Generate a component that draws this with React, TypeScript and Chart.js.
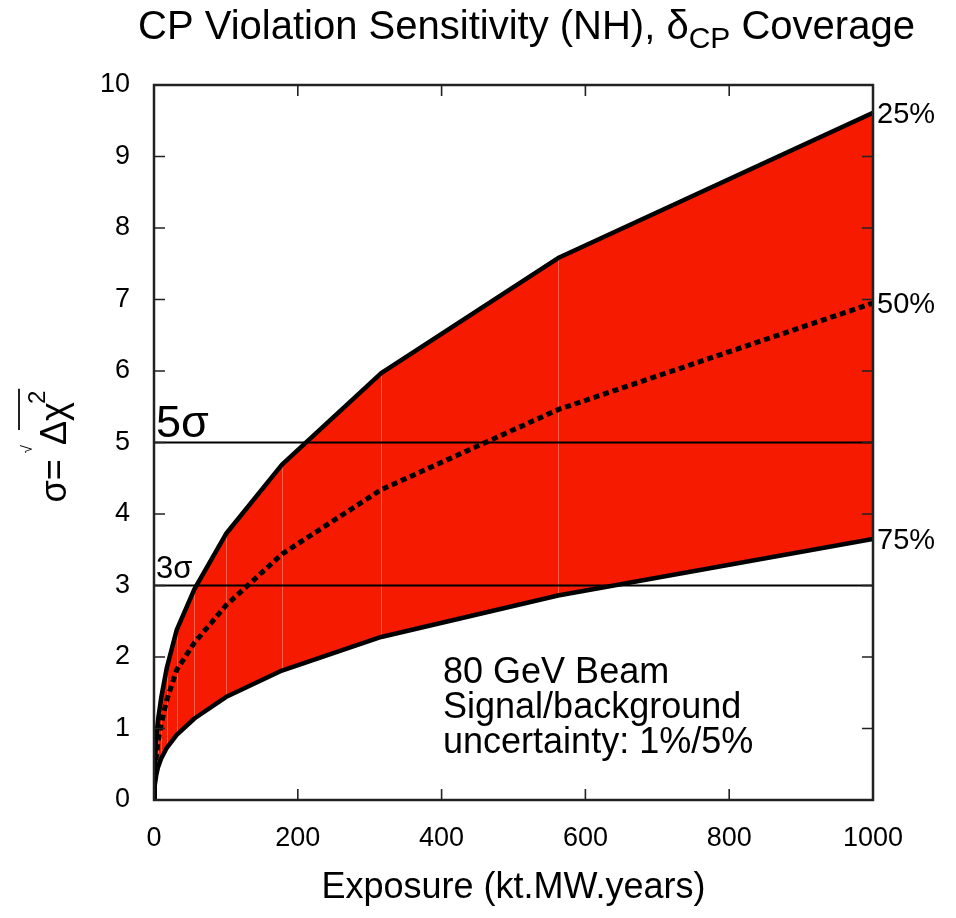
import React, { useEffect, useRef } from 'react';
import { Chart, registerables } from 'chart.js';

Chart.register(...registerables);

// ---- data ----
const exposure = [0, 1, 3.16, 5.62, 10, 17.8, 31.6, 56.2, 100, 178, 316, 562, 1000];
const coverage25 = [0, 0.5, 0.88, 1.12, 1.43, 1.85, 2.38, 2.95, 3.72, 4.69, 5.97, 7.58, 9.61];
const coverage50 = [0, 0.32, 0.6, 0.82, 1.06, 1.4, 1.82, 2.2, 2.72, 3.44, 4.34, 5.46, 6.95];
const coverage75 = [0, 0.2, 0.35, 0.46, 0.58, 0.73, 0.91, 1.14, 1.44, 1.81, 2.28, 2.86, 3.65];
const coverageLabels = ['25%', '50%', '75%'];
const sigmaLevels = [5, 3];
const sigmaLabels = ['5σ', '3σ'];
const xTickValues = [0, 200, 400, 600, 800, 1000];
const yTickValues = [0, 1, 2, 3, 4, 5, 6, 7, 8, 9, 10];
const noteLines = ['80 GeV Beam', 'Signal/background', 'uncertainty: 1%/5%'];
const notePosition = { x: 402, y: 1.64 };
const titleMain = 'CP Violation Sensitivity (NH), ';
const titleDelta = 'δ';
const titleSub = 'CP';
const titleEnd = ' Coverage';
const xTitle = 'Exposure (kt.MW.years)';

const FONT = '"Liberation Sans", Arial, Helvetica, sans-serif';
const RED = '#f51a00';

const decorPlugin = {
  id: 'decor',
  beforeDatasetsDraw(chart: any) {
    const { ctx, scales } = chart;
    const xs = scales.x, ys = scales.y;
    ctx.save();
    ctx.strokeStyle = 'rgba(255,255,255,0.3)';
    ctx.lineWidth = 1;
    for (let i = 1; i < exposure.length - 1; i++) {
      const px = Math.round(xs.getPixelForValue(exposure[i])) + 0.5;
      ctx.beginPath();
      ctx.moveTo(px, ys.getPixelForValue(coverage75[i]));
      ctx.lineTo(px, ys.getPixelForValue(coverage25[i]));
      ctx.stroke();
    }
    ctx.restore();
  },
  afterDraw(chart: any) {
    const { ctx, chartArea: a, scales } = chart;
    const xs = scales.x, ys = scales.y;
    ctx.save();
    // frame
    ctx.strokeStyle = '#222';
    ctx.lineWidth = 2.5;
    ctx.strokeRect(a.left, a.top, a.right - a.left, a.bottom - a.top);
    // inward ticks on all sides
    ctx.lineWidth = 1.6;
    const tl = 11;
    ctx.beginPath();
    for (const v of xTickValues) {
      if (v === xs.min || v === xs.max) continue;
      const px = xs.getPixelForValue(v);
      ctx.moveTo(px, a.bottom); ctx.lineTo(px, a.bottom - tl);
      ctx.moveTo(px, a.top); ctx.lineTo(px, a.top + tl);
    }
    for (const v of yTickValues) {
      if (v === ys.min || v === ys.max) continue;
      const py = ys.getPixelForValue(v);
      ctx.moveTo(a.left, py); ctx.lineTo(a.left + tl, py);
      ctx.moveTo(a.right, py); ctx.lineTo(a.right - tl, py);
    }
    ctx.stroke();

    ctx.fillStyle = '#000';
    // sigma labels
    sigmaLevels.forEach((lv, i) => {
      ctx.font = `${i === 0 ? 45 : 31}px ${FONT}`;
      ctx.textAlign = 'left';
      ctx.textBaseline = 'alphabetic';
      ctx.fillText(sigmaLabels[i], a.left + 2, ys.getPixelForValue(lv) - (i === 0 ? 6 : 8));
    });
    // coverage labels at end of curves
    const ends = [coverage25, coverage50, coverage75].map((s) => s[s.length - 1]);
    ctx.font = `29px ${FONT}`;
    ctx.textBaseline = 'middle';
    ends.forEach((v, i) => {
      ctx.fillText(coverageLabels[i], a.right + 4, ys.getPixelForValue(v) + 2);
    });
    // note
    ctx.font = `36px ${FONT}`;
    ctx.textBaseline = 'alphabetic';
    const nx = xs.getPixelForValue(notePosition.x);
    const ny = ys.getPixelForValue(notePosition.y);
    noteLines.forEach((t, i) => ctx.fillText(t, nx, ny + i * 35));

    // title with subscript
    const tFont = `40px ${FONT}`;
    const sFont = `30px ${FONT}`;
    ctx.font = tFont;
    const w1 = ctx.measureText(titleMain).width;
    const w2 = ctx.measureText(titleDelta).width;
    const w4 = ctx.measureText(titleEnd).width;
    ctx.font = sFont;
    const w3 = ctx.measureText(titleSub).width;
    const total = w1 + w2 + w3 + w4;
    let tx = (a.left + a.right) / 2 + 13 - total / 2;
    const tby = 39;
    ctx.font = tFont;
    ctx.fillText(titleMain, tx, tby); tx += w1;
    ctx.fillText(titleDelta, tx, tby); tx += w2;
    ctx.font = sFont;
    ctx.fillText(titleSub, tx, tby + 9); tx += w3;
    ctx.font = tFont;
    ctx.fillText(titleEnd, tx, tby);

    // x axis title
    ctx.font = `36px ${FONT}`;
    ctx.textAlign = 'center';
    ctx.fillText(xTitle, (a.left + a.right) / 2, 898);

    // y axis title: sigma = sqrt(Δχ^2), rotated
    ctx.save();
    ctx.translate(66, (a.top + a.bottom) / 2 + 60);
    ctx.rotate(-Math.PI / 2);
    ctx.textAlign = 'left';
    ctx.textBaseline = 'alphabetic';
    let u = 0;
    ctx.font = `36px ${FONT}`;
    ctx.fillText('σ=', u, 0);
    u += ctx.measureText('σ=').width + 6;
    ctx.font = `15px ${FONT}`;
    ctx.fillText('√', u, -34);
    u += ctx.measureText('√').width;
    ctx.font = `36px ${FONT}`;
    const dStart = u;
    ctx.fillText('Δχ', u, 0);
    u += ctx.measureText('Δχ').width;
    ctx.font = `24px ${FONT}`;
    ctx.fillText('2', u - 2, -21);
    u += ctx.measureText('2').width - 2;
    ctx.lineWidth = 2;
    ctx.beginPath();
    ctx.moveTo(dStart + 15, -47);
    ctx.lineTo(u + 2, -47);
    ctx.stroke();
    ctx.restore();

    ctx.restore();
  },
};

export default function App() {
  const ref = useRef<HTMLCanvasElement | null>(null);
  useEffect(() => {
    if (!ref.current) return;
    const pts = (ys: number[]) => exposure.map((x, i) => ({ x, y: ys[i] }));
    const hline = (v: number) => [
      { x: exposure[0], y: v },
      { x: exposure[exposure.length - 1], y: v },
    ];
    const chart = new Chart(ref.current, {
      type: 'line',
      data: {
        datasets: [
          {
            label: '25%',
            data: pts(coverage25),
            borderColor: '#000',
            borderWidth: 4.5,
            backgroundColor: RED,
            fill: 2,
            pointRadius: 0,
            tension: 0,
            borderJoinStyle: 'round',
            order: 0,
          },
          {
            label: '50%',
            data: pts(coverage50),
            borderColor: '#000',
            borderWidth: 5,
            borderDash: [6, 4],
            fill: false,
            pointRadius: 0,
            tension: 0,
            order: 0,
          },
          {
            label: '75%',
            data: pts(coverage75),
            borderColor: '#000',
            borderWidth: 4.5,
            fill: false,
            pointRadius: 0,
            tension: 0,
            borderJoinStyle: 'round',
            order: 0,
          },
          ...sigmaLevels.map((lv, i) => ({
            label: sigmaLabels[i],
            data: hline(lv),
            borderColor: '#000',
            borderWidth: 2.2,
            fill: false,
            pointRadius: 0,
            order: 1,
          })),
        ],
      } as any,
      options: {
        responsive: false,
        animation: false,
        devicePixelRatio: 1,
        layout: { padding: { left: 0, top: 85, right: 83, bottom: 0 } },
        plugins: {
          legend: { display: false },
          tooltip: { enabled: false },
          title: { display: false },
          filler: { drawTime: 'beforeDatasetsDraw' },
        } as any,
        scales: {
          x: {
            type: 'linear',
            min: 0,
            max: 1000,
            grid: { display: false, drawTicks: false },
            border: { display: false },
            ticks: {
              stepSize: 200,
              padding: 22,
              color: '#000',
              font: { size: 27, family: FONT },
              maxRotation: 0,
              callback: (v: any) => String(v),
            },
            afterFit: (s: any) => { s.height = 118; },
          },
          y: {
            type: 'linear',
            min: 0,
            max: 10,
            grid: { display: false, drawTicks: false },
            border: { display: false },
            ticks: {
              stepSize: 1,
              padding: 24,
              color: '#000',
              font: { size: 27, family: FONT },
              callback: (v: any) => String(v),
            },
            afterFit: (s: any) => { s.width = 154; },
          },
        },
      } as any,
      plugins: [decorPlugin],
    });
    return () => chart.destroy();
  }, []);
  return (
    <div style={{ position: 'absolute', left: 0, top: 0, width: 956, height: 918, background: '#fff' }}>
      <canvas ref={ref} width={956} height={918} style={{ display: 'block' }} />
    </div>
  );
}
